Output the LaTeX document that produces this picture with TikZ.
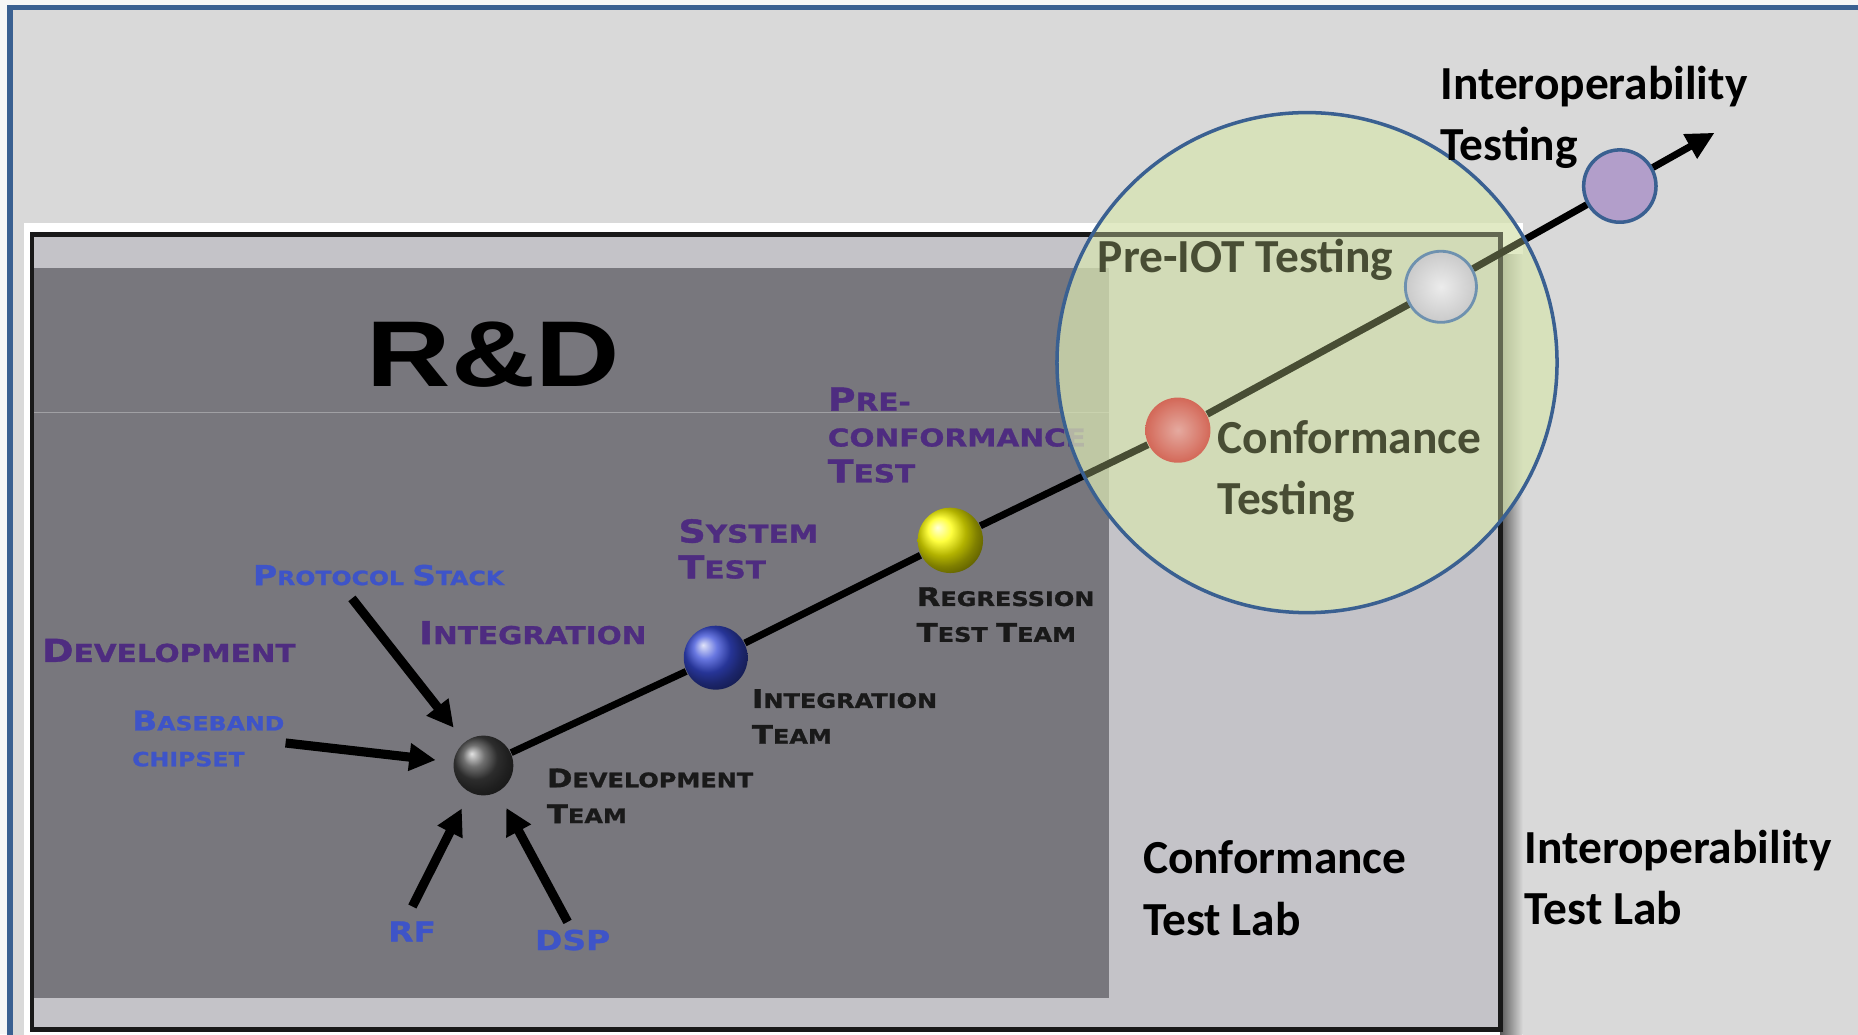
\documentclass[tikz,border=0pt]{standalone}
\usepackage{fontspec}
\newfontfamily\gillfont{Carlito}
\newfontfamily\capfont{DejaVu Sans Bold}[FakeStretch=1.2,FakeBold=1.2]
\newfontfamily\rdfont{Liberation Sans}[FakeStretch=1.25]
\usetikzlibrary{arrows.meta}
\definecolor{bgcol}{RGB}{217,217,217}
\definecolor{framecol}{RGB}{58,96,145}
\definecolor{lightpanel}{RGB}{196,195,200}
\definecolor{darkpanel}{RGB}{120,119,125}
\definecolor{purp}{RGB}{78,44,128}
\definecolor{labblue}{RGB}{62,84,200}
\definecolor{halo}{RGB}{215,228,178}
\definecolor{mossy}{RGB}{72,77,52}
\definecolor{confred}{RGB}{212,92,78}
\definecolor{iotpurp}{RGB}{178,158,202}
\definecolor{preblue}{RGB}{110,145,175}
\definecolor{ballblue}{RGB}{55,75,215}
\newcommand\fsc[3]{{\fontsize{#1}{10.2}\selectfont #2}#3}

\begin{document}
\begin{tikzpicture}[x=0.01185cm,y=-0.01185cm,
	trunk/.style={line width=2pt},
	feed/.style={line width=2.6pt,-{Triangle[length=7.5pt,width=7.5pt]},shorten >=5pt},
	sphere/.style={circle,inner sep=0pt,minimum size=#1},
	caplab/.style={anchor=north west,inner sep=0pt,align=left,font=\capfont\fontsize{#1}{10.2}\selectfont},
	gill/.style={anchor=north west,inner sep=0pt,align=left,font=\gillfont\bfseries\fontsize{13.5}{17.5}\selectfont}]
	\useasboundingbox (0,0) rectangle (1568,873);
	\clip (0,0) rectangle (1568,873);
	\fill[white!93!gray] (0,0) rectangle (1568,873);
	\fill[bgcol] (8.5,6.3) rectangle (1600,900);
	\draw[framecol,line width=1.6pt] (8.5,6.3) rectangle (1600,900);
	% R&D slide
	\fill[white] (20,188) rectangle (1285,880);
	\shade[left color=black!65,right color=bgcol] (1266,215) rectangle (1285,880);
	\fill[lightpanel] (27,198) rectangle (1266,869);
	\fill[darkpanel] (29,226) rectangle (936,842);
	\draw[darkpanel!70!white,line width=0.3pt] (29,348) -- (936,348);
	\draw[black!90,line width=1.4pt] (27,198) rectangle (1266,869);
	\node[anchor=base west,inner sep=0pt,font=\rdfont\bfseries\fontsize{26.6}{30}\selectfont] (rd) at (309,326.5) {R\&D};

	\node[caplab=7.0,text=purp] (devlab) at (35,538.5) {\fsc{9.0}{D}{EVELOPMENT}};
	\node[caplab=5.6,text=labblue] (protolab) at (213,476) {\fsc{7.8}{P}{ROTOCOL} \fsc{7.8}{S}{TACK}};
	\node[caplab=7.0,text=purp] (integlab) at (353,523.5) {\fsc{9.0}{I}{NTEGRATION}};
	\node[caplab=5.6,text=labblue] (baselab) at (111,599) {\fsc{7.8}{B}{ASEBAND}\\CHIPSET};
	\node[caplab=7.0,text=purp] (syslab) at (572,437.5) {\fsc{9.0}{S}{YSTEM}\\\fsc{9.0}{T}{EST}};
	\node[caplab=7.0,text=purp] (prelab) at (698,326.5) {\fsc{9.0}{P}{RE-}\\CONFORMANCE\\\fsc{9.0}{T}{EST}};
	\node[caplab=5.7,text=black!90] (devteam) at (461,648) {\fsc{7.3}{D}{EVELOPMENT}\\\fsc{7.3}{T}{EAM}};
	\node[caplab=5.7,text=black!90] (integteam) at (634,581) {\fsc{7.3}{I}{NTEGRATION}\\\fsc{7.3}{T}{EAM}};
	\node[caplab=5.7,text=black!90] (regteam) at (773,495) {\fsc{7.3}{R}{EGRESSION}\\\fsc{7.3}{T}{EST} \fsc{7.3}{T}{EAM}};
	\node[caplab=7.8,text=labblue] (rflab) at (327,777) {RF};
	\node[caplab=7.8,text=labblue] (dsplab) at (451,784) {DSP};

	\node[sphere=17pt,shade,ball color=black!75] (devball) at (408,646) {};
	\node[sphere=18.2pt,shade,ball color=ballblue] (intball) at (604,555) {};
	\node[sphere=18.6pt,shade,ball color=yellow] (regball) at (802,456) {};
	\node[sphere=18.6pt] (confball) at (994,363) {};
	\node[sphere=20.6pt] (preball) at (1216,242) {};
	\node[sphere=20.6pt,fill=iotpurp,draw=framecol,line width=1pt] (iotball) at (1367,157) {};
	\coordinate (tip) at (1447,112);
	\coordinate (protofoot) at (297,505);
	\coordinate (basefoot) at (241,627);
	\coordinate (rffoot) at (348,765);
	\coordinate (dspfoot) at (479,778);

	\draw[feed] (protofoot) -- (devball);
	\draw[feed] (basefoot) -- (devball);
	\draw[feed] (rffoot) -- (devball);
	\draw[feed] (dspfoot) -- (devball);
	\draw[trunk] (devball) -- (intball) -- (regball) -- (confball) -- (preball) -- (iotball);
	\draw[trunk,-{Triangle[length=8pt,width=7.5pt]}] (iotball) -- (tip);

	% conformance halo
	\fill[halo,fill opacity=0.75] (1103,306) circle[radius=211];
	\begin{scope}
		\clip (1103,306) circle[radius=211];
		\draw[mossy!85,line width=1.4pt] (27,198) rectangle (1266,869);
		\draw[trunk,mossy] (regball) -- (confball) -- (preball) -- (iotball);
	\end{scope}
	\shade[inner color=confred!55!white,outer color=confred,opacity=0.9] (confball.center) circle[radius=27.5];
	\shade[inner color=gray!15,outer color=gray!42] (preball.center) circle[radius=30];
	\draw[preblue,line width=0.8pt] (preball.center) circle[radius=30];
	\draw[framecol,line width=1pt] (1103,306) circle[radius=211];

	\node[gill,anchor=base west,text=mossy] (preiot) at (926,230) {Pre-IOT Testing};
	\node[gill,text=mossy] (conftest) at (1027,354) {Conformance\\Testing};
	\node[gill] (ioptest) at (1215,55) {Interoperability\\Testing};
	\node[gill] (conflab) at (964,709) {Conformance\\Test Lab};
	\node[gill] (ioplab) at (1286,700) {Interoperability\\Test Lab};
\end{tikzpicture}
\end{document}
